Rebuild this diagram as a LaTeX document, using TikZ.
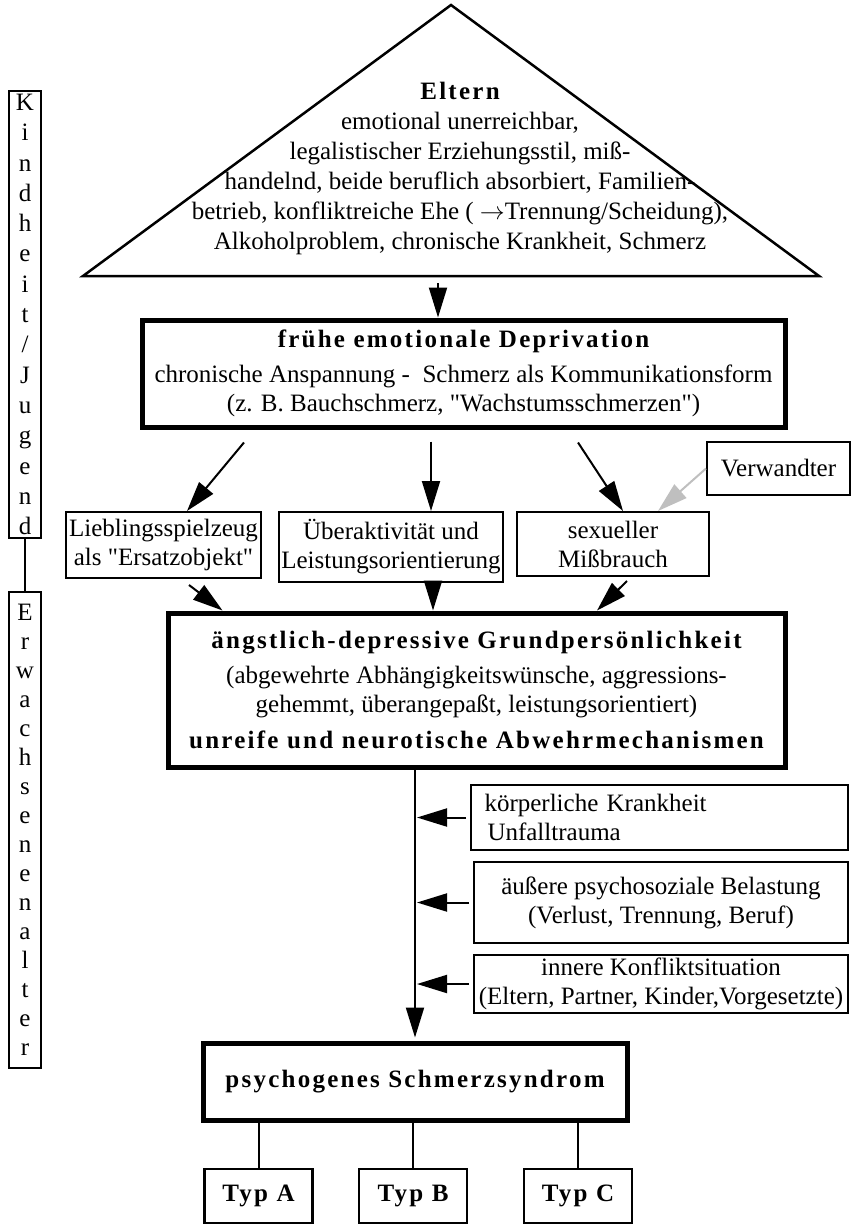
\documentclass[tikz,border=0pt]{standalone}
\usepackage{fontspec}
\setmainfont{Liberation Serif}
\newfontfamily\plainrm{Liberation Serif}
\newfontfamily\spacedfont[LetterSpace=9]{Liberation Serif}
\usetikzlibrary{arrows.meta}

\tikzset{
  every node/.style={font=\plainrm\fontsize{25}{29}\selectfont},
  thinbox/.style={draw, line width=2pt, inner sep=1pt, align=center},
  thickbox/.style={draw, line width=5pt, inner sep=1pt, align=center},
  typbox/.style={thinbox, line width=2.5pt, minimum width=108, minimum height=54},
  lifebox/.style={thinbox, minimum width=32},
  arr/.style={line width=2pt, -{Triangle[length=30pt,width=18pt]}},
  grayarr/.style={arr, draw=black!25},
  link/.style={line width=2pt}
}
\newcommand{\hd}[1]{{\spacedfont\bfseries #1}}

\begin{document}
\begin{tikzpicture}[x=1pt, y=-1pt]
  \useasboundingbox (0,0) rectangle (852,1225); %
  % Lebensabschnitte links
  \node[lifebox, minimum height=447, font=\plainrm\fontsize{25}{30.3}\selectfont](kind) at (25,314.5) {K\\i\\n\\d\\h\\e\\i\\t\\/\\J\\u\\g\\e\\n\\d}; %
  \node[lifebox, minimum height=476](erw) at (25,830) {E\\r\\w\\a\\c\\h\\s\\e\\n\\e\\n\\a\\l\\t\\e\\r}; %
  \draw[link] (kind.south) -- (erw.north); %
  % Eltern
  \coordinate (apex) at (451,5); %
  \coordinate (bl) at (83,276); %
  \coordinate (br) at (819,276); %
  \draw[line width=2.5pt] (bl) -- (apex) -- (br) -- cycle; %
  \node[align=center, font=\plainrm\fontsize{25}{30}\selectfont](eltern) at (460,168) {\hd{Eltern}\\emotional unerreichbar,\\legalistischer Erziehungsstil, miß-\\handelnd, beide beruflich absorbiert, Familien-\\betrieb, konfliktreiche Ehe ( $\rightarrow$Trennung/Scheidung),\\Alkoholproblem, chronische Krankheit, Schmerz}; %
  \coordinate (tbase) at (438,283); %
  % Deprivation
  \node[thickbox, minimum width=643, minimum height=107](dep) at (463.5,373.5) {\hd{frühe emotionale Deprivation}\\[6pt]chronische Anspannung -\ \ Schmerz als Kommunikationsform\\(z. B. Bauchschmerz, "Wachstumsschmerzen")}; %
  \draw[arr] (tbase) -- (tbase |- dep.north); %
  % Folgen
  \node[thinbox, minimum width=195, minimum height=66](lieb) at (163.5,545) {Lieblingsspielzeug\\als "Ersatzobjekt"}; %
  \node[thinbox, minimum width=224, minimum height=70](ueber) at (391,547) {Überaktivität und\\Leistungsorientierung}; %
  \node[thinbox, minimum width=192, minimum height=64](miss) at (613,544) {sexueller\\Mißbrauch}; %
  \node[thinbox, minimum width=143, minimum height=53](verw) at (778.5,468.5) {Verwandter}; %
  \draw[arr] ([xshift=-219.5pt,yshift=-13pt]dep.south) -- ([xshift=23.5pt]lieb.north); %
  \draw[arr] ([xshift=-32.5pt,yshift=-12pt]dep.south) -- ([xshift=40pt]ueber.north); %
  \draw[arr] ([xshift=114.5pt,yshift=-13pt]dep.south) -- ([xshift=10pt]miss.north); %
  \draw[grayarr] (verw.west) -- ([xshift=45pt]miss.north); %
  % Grundpersoenlichkeit
  \node[thickbox, minimum width=617, minimum height=154](grund) at (476.5,690) {\hd{ängstlich-depressive Grundpersönlichkeit}\\[6pt](abgewehrte Abhängigkeitswünsche, aggressions-\\gehemmt, überangepaßt, leistungsorientiert)\\[7pt]\hd{unreife und neurotische Abwehrmechanismen}}; %
  \draw[arr] ([xshift=25.5pt,yshift=-6pt]lieb.south) -- ([xshift=57pt]grund.north west); %
  \draw[arr] ([xshift=42pt]ueber.south) -- ([xshift=42pt]ueber.south |- grund.north); %
  \draw[arr] ([xshift=14pt,yshift=-4pt]miss.south) -- ([xshift=120.5pt]grund.north); %
  % Schmerzsyndrom
  \node[thickbox, minimum width=424, minimum height=77](psych) at (415,1081.5) {\hd{psychogenes Schmerzsyndrom}}; %
  \draw[arr, shorten >=3pt] (psych.north |- grund.south) -- (psych.north); %
  % Ausloeser
  \node[thinbox, minimum width=377, minimum height=65, text width=350, align=left](koerp) at (659.5,817.5) {körperliche Krankheit\\\hspace*{3pt}Unfalltrauma}; %
  \node[thinbox, minimum width=374, minimum height=81](belast) at (661,902.5) {äußere psychosoziale Belastung\\(Verlust, Trennung, Beruf)}; %
  \node[thinbox, minimum width=374, minimum height=58](konfl) at (661,984) {innere Konfliktsituation\\(Eltern, Partner, Kinder,Vorgesetzte)}; %
  \foreach \src in {koerp,belast,konfl}
    \draw[arr, shorten <=4pt, shorten >=2pt] (\src.west) -- (\src.west -| psych.north); %
  % Typen
  \node[typbox](typa) at (258.5,1196) {\hd{Typ A}}; %
  \node[typbox](typb) at (413,1196) {\hd{Typ B}}; %
  \node[typbox](typc) at (578,1196) {\hd{Typ C}}; %
  \foreach \t in {typa,typb,typc}
    \draw[link] (\t.north |- psych.south) -- (\t.north); %
\end{tikzpicture}
\end{document}
